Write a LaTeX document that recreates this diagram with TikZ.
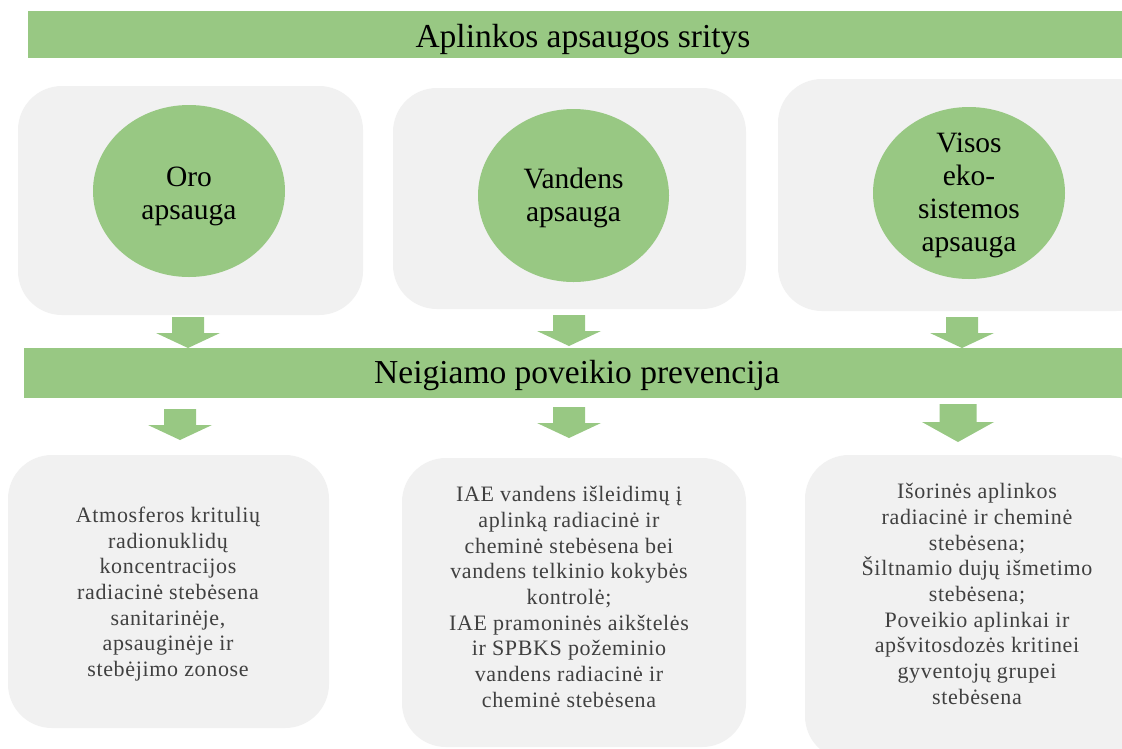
\documentclass[tikz,border=0pt]{standalone}
\usepackage{fontspec}
\setmainfont{Liberation Serif}
\newfontfamily\boxfont[LetterSpace=3]{Liberation Serif}
\usetikzlibrary{shapes.geometric}
\definecolor{gr}{HTML}{98C883}
\definecolor{bx}{HTML}{F1F1F1}
\definecolor{tx}{HTML}{404040}
\tikzset{
  bar/.style={fill=gr, inner sep=0pt},
  bartext/.style={anchor=base, inner sep=0pt, font=\fontsize{33.5}{38}\selectfont},
  panel/.style={fill=bx, rounded corners=44pt, inner sep=0pt},
  disc/.style={ellipse, fill=gr, inner sep=0pt},
  disctext/.style={align=center, inner sep=0pt, font=\fontsize{29.5}{33}\selectfont},
  info/.style={align=center, text=tx, inner sep=0pt, font=\boxfont\fontsize{22}{25.7}\selectfont},
  barrow/.pic={\fill[gr] (-16,-31) -- (16,-31) -- (16,-15) -- (32,-15) -- (0,0) -- (-32,-15) -- (-16,-15) -- cycle;},
  barrowL/.pic={\fill[gr] (-18.5,-38) -- (18.5,-38) -- (18.5,-20) -- (36,-20) -- (0,0) -- (-36,-20) -- (-18.5,-20) -- cycle;}
}
\begin{document}
\begin{tikzpicture}[x=1pt,y=-1pt]
\useasboundingbox (0,0) rectangle (1122,748);
\fill[white] (0,0) rectangle (1122,748);
\clip (0,0) rectangle (1122,748);

% top bar
\node[bar, minimum width=1110pt, minimum height=47pt] (top) at (583,34.5) {};
\node[bartext] (toptext) at (583,47) {Aplinkos apsaugos sritys};

% top panels
\node[panel, minimum width=345pt, minimum height=229pt] (p1) at (190.5,200.5) {};
\node[panel, minimum width=353pt, minimum height=221pt] (p2) at (569.5,198.5) {};
\node[panel, minimum width=382pt, minimum height=232pt] (p3) at (969,195) {};

% discs
\node[disc, minimum width=192pt, minimum height=172pt] (e1) at (189,191) {};
\node[disc, minimum width=191pt, minimum height=173pt] (e2) at (573.5,195.5) {};
\node[disc, minimum width=192pt, minimum height=172pt] (e3) at (969,193) {};
\node[disctext] (e1t) at (189,196) {Oro\\apsauga};
\node[disctext] (e2t) at (573.5,198) {Vandens\\apsauga};
\node[disctext] (e3t) at (969,195) {Visos\\eko-\\sistemos\\apsauga};

% arrows to middle bar
\coordinate (a1) at (188,348);
\coordinate (a2) at (569,346);
\coordinate (a3) at (962,348);
\pic at (a1) {barrow};
\pic at (a2) {barrow};
\pic at (a3) {barrow};

% middle bar
\node[bar, minimum width=1106pt, minimum height=50pt] (mid) at (577,373) {};
\node[bartext] (midtext) at (577,383) {Neigiamo poveikio prevencija};

% arrows from middle bar
\coordinate (a4) at (180,440);
\coordinate (a5) at (569,438);
\coordinate (a6) at (958,442);
\pic at (a4) {barrow};
\pic at (a5) {barrow};
\pic at (a6) {barrowL};

% bottom panels
\node[panel, minimum width=321pt, minimum height=273pt] (q1) at (168.5,591.5) {};
\node[panel, minimum width=344pt, minimum height=289pt] (q2) at (574,602.5) {};
\node[panel, minimum width=345pt, minimum height=305pt] (q3) at (977.5,607.5) {};

\node[info] (t1) at (168,594) {Atmosferos kritulių\\radionuklidų\\koncentracijos\\radiacinė stebėsena\\sanitarinėje,\\apsauginėje ir\\stebėjimo zonose};
\node[info] (t2) at (569,597) {IAE vandens išleidimų į\\aplinką radiacinė ir\\cheminė stebėsena bei\\vandens telkinio kokybės\\kontrolė;\\IAE pramoninės aikštelės\\ir SPBKS požeminio\\vandens radiacinė ir\\cheminė stebėsena};
\node[info] (t3) at (977,594) {Išorinės aplinkos\\radiacinė ir cheminė\\stebėsena;\\Šiltnamio dujų išmetimo\\stebėsena;\\Poveikio aplinkai ir\\apšvitosdozės kritinei\\gyventojų grupei\\stebėsena};
\end{tikzpicture}
\end{document}
